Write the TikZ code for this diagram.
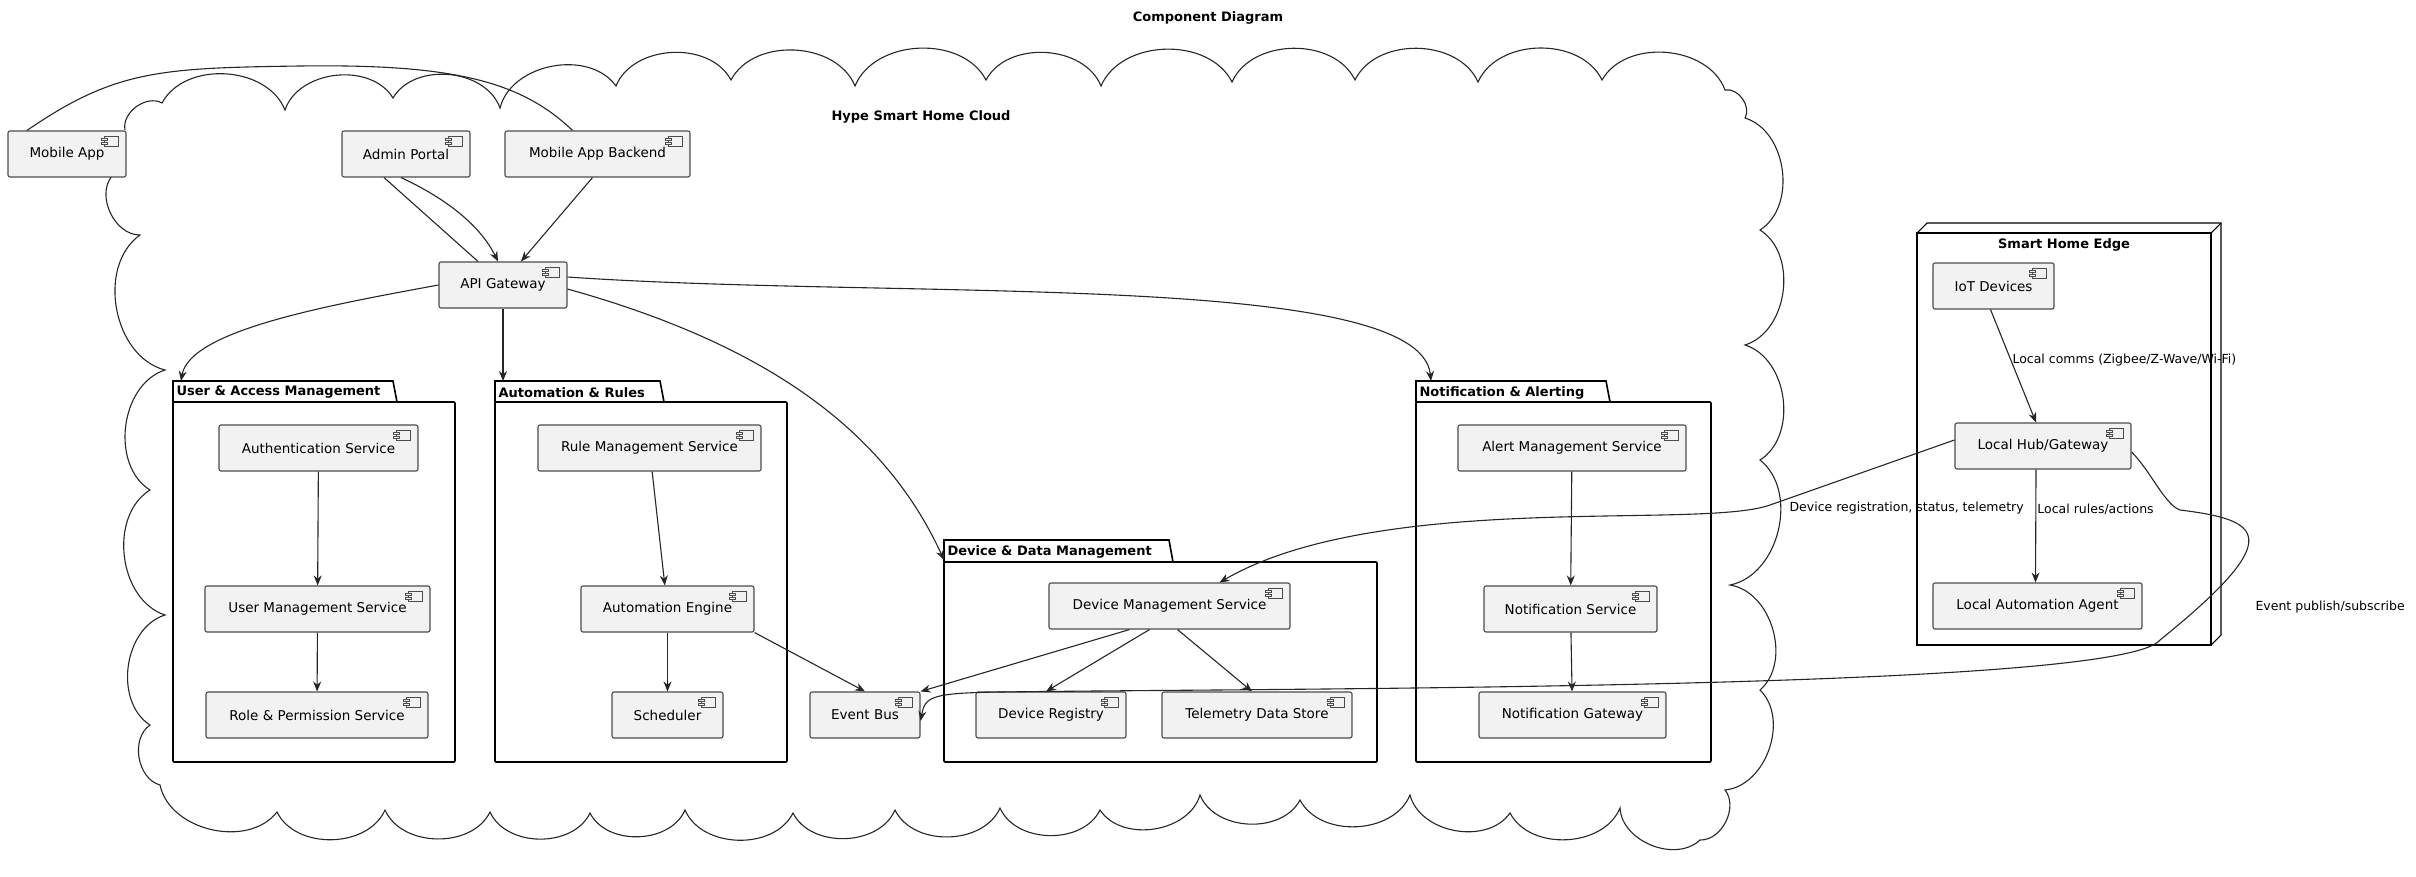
\documentclass[tikz,border=0pt]{standalone}
\usepackage{fontspec}
\setmainfont{DejaVu Sans}
\usetikzlibrary{arrows.meta, positioning}

\tikzset{
  comp/.style={rectangle, rounded corners=2pt, draw=black!70, fill=gray!10, inner sep=0pt, font=\fontsize{13.5}{15}\selectfont},
  arrow/.style={draw=black!85, -{Stealth[length=10pt,width=8pt]}},
  link/.style={draw=black!85},
  pkgline/.style={draw=black, line width=1.6pt},
  lbl/.style={font=\fontsize{12.5}{15}\selectfont, inner sep=1pt}
}

% component box with its little icon
\newcommand{\comp}[6]{%
  \node[comp, minimum width={(#4-#2)*1pt}, minimum height={(#5-#3)*1pt}] (#1) at ({(#2+#4)/2},{(#3+#5)/2}) {\raisebox{-6pt}{#6}};
  \draw[draw=black!70, fill=gray!10] ([shift={(-22,6)}]#1.north east) rectangle ++(14,10);
  \draw[draw=black!70, fill=gray!10] ([shift={(-25,8)}]#1.north east) rectangle ++(6,2);
  \draw[draw=black!70, fill=gray!10] ([shift={(-25,12)}]#1.north east) rectangle ++(6,2);
}
% package: name, x1, tab top, body top, x2, bottom, tab width, label
\newcommand{\pkg}[8]{%
  \draw[pkgline, fill=white] (#2,#4) -- (#2,#3) -- (#2+#7,#3) -- (#2+#7+4,#4);
  \draw[pkgline, rounded corners=1pt] (#2,#4) rectangle (#5,#6);
  \coordinate (#1) at (#2,#3);
  \node[anchor=west, inner sep=0pt, font=\bfseries\fontsize{13}{15}\selectfont] at (#2+3,{(#3+#4)/2+1}) {#8};
}

\begin{document}
\begin{tikzpicture}[x=1pt, y=-1pt, every path/.style={line width=1.1pt}]
  \useasboundingbox (0,0) rectangle (2416,876);

  \node[font=\bfseries\fontsize{13}{15}\selectfont] (title) at (1208,18) {Component Diagram};

  % cloud outline
  \draw[black!85] (125,130)
    foreach \cx/\cy in {162/103,285/110,393/98,500/108,616/86,731/80,855/86,986/80,1101/86,1232/82,1355/80,1478/82,1602/80,1725/90,1745/118,1760/230,1745/345,1760/460,1730/585,1760/690,1725/790,
      1700/840,1620/808,1510/813,1410/795,1300/800,1200/795,1100/810,1000/808,895/810,793/813,685/810,590/813,490/812,385/810,277/812,160/785,150/725,165/615,150/490,165/370,140/235,112/176}
    { to[bend left=65] (\cx,\cy) };
  \node[font=\bfseries\fontsize{13}{15}\selectfont] (cloudlbl) at (921,117) {Hype Smart Home Cloud};

  % edge node
  \draw[black] (1917,233) rectangle (2211,645);
  \draw[black] (1917,233) -- (1927,223) -- (2221,223) -- (2221,635) -- (2211,645);
  \draw[black] (2211,233) -- (2221,223);
  \node[font=\bfseries\fontsize{13}{15}\selectfont] (edgelbl) at (2064,245) {Smart Home Edge};

  % packages
  \pkg{uam}{173}{381}{402}{455}{762}{220}{User \& Access Management}
  \pkg{aar}{495}{381}{402}{787}{762}{165}{Automation \& Rules}
  \pkg{ddm}{944}{540}{562}{1377}{762}{225}{Device \& Data Management}
  \pkg{nal}{1416}{381}{402}{1711}{762}{190}{Notification \& Alerting}

  % components
  \comp{mobile}{8}{131}{126}{177}{Mobile App}
  \comp{admin}{342}{131}{470}{177}{Admin Portal}
  \comp{backend}{505}{131}{690}{177}{Mobile App Backend}
  \comp{api}{439}{262}{567}{308}{API Gateway}

  \comp{auth}{219}{425}{418}{471}{Authentication Service}
  \comp{usermgmt}{205}{586}{430}{632}{User Management Service}
  \comp{role}{206}{692}{428}{738}{Role \& Permission Service}

  \comp{rulemgmt}{538}{425}{761}{471}{Rule Management Service}
  \comp{engine}{581}{586}{754}{632}{Automation Engine}
  \comp{sched}{612}{692}{723}{738}{Scheduler}

  \comp{eventbus}{810}{692}{920}{738}{Event Bus}

  \comp{devmgmt}{1049}{583}{1290}{629}{Device Management Service}
  \comp{registry}{976}{692}{1126}{738}{Device Registry}
  \comp{telemetry}{1162}{692}{1352}{738}{Telemetry Data Store}

  \comp{alert}{1458}{425}{1686}{471}{Alert Management Service}
  \comp{notif}{1484}{586}{1657}{632}{Notification Service}
  \comp{notifgw}{1479}{692}{1666}{738}{Notification Gateway}

  \comp{iot}{1933}{263}{2054}{309}{IoT Devices}
  \comp{hub}{1955}{423}{2131}{469}{Local Hub/Gateway}
  \comp{agent}{1933}{583}{2142}{629}{Local Automation Agent}

  % connectors
  \draw[link] ([xshift=-40pt]mobile.north) .. controls (115,70) and (160,68) .. (300,66)
    .. controls (450,64) and (520,80) .. ([xshift=-25pt]backend.north);
  \draw[link] ([xshift=-22pt]admin.south) -- ([xshift=-25pt]api.north);
  \draw[arrow] ([xshift=-5pt]admin.south) .. controls (460,205) and (485,235) .. ([xshift=-5pt]api.north);
  \draw[arrow] ([xshift=-5pt]backend.south) -- ([xshift=18pt]api.north);

  \draw[arrow] (api.west) .. controls (330,305) and (190,330) .. ([xshift=8pt]uam);
  \draw[arrow] (api.south) -- (api.south |- aar);
  \draw[arrow] ([yshift=-4pt]api.east) .. controls (750,340) and (880,420) .. ([yshift=-20pt]ddm);
  \draw[arrow] ([yshift=8pt]api.east) .. controls (900,300) and (1420,270) .. ([xshift=15pt]nal);

  \draw[arrow] (auth) -- (usermgmt);
  \draw[arrow] (usermgmt) -- (role);
  \draw[arrow] (rulemgmt) -- (engine);
  \draw[arrow] (engine) -- (sched);
  \draw[arrow] (engine.south east) -- (eventbus.north);
  \draw[arrow] ([xshift=-40pt]devmgmt.south) -- (eventbus.north east);
  \draw[arrow] ([xshift=-20pt]devmgmt.south) -- ([xshift=-5pt]registry.north);
  \draw[arrow] ([xshift=8pt]devmgmt.south) -- ([xshift=-5pt]telemetry.north);
  \draw[arrow] (alert) -- (notif);
  \draw[arrow] (notif) -- (notifgw);

  \draw[arrow] ([xshift=-3pt]iot.south) -- node[lbl, anchor=west, pos=0.45] {Local comms (Zigbee/Z-Wave/Wi-Fi)} ([xshift=-7pt]hub.north);
  \draw[arrow] ([xshift=-7pt]hub.south) -- node[lbl, anchor=west, pos=0.35] {Local rules/actions} ([xshift=-2pt]agent.north);
  \draw[arrow] ([yshift=6pt]hub.west) -- (1770,505) .. controls (1700,530) and (1380,490) .. ([xshift=50pt]devmgmt.north);
  \node[lbl, anchor=west] (devlbl) at (1788,508) {Device registration, status, telemetry};
  \draw[arrow] ([yshift=-6pt]hub.east) .. controls (2150,470) and (2165,505) .. (2180,510)
    .. controls (2260,520) and (2290,535) .. (2160,640)
    .. controls (2120,690) and (1300,688) .. (1000,692)
    .. controls (930,693) and (925,697) .. ([yshift=-6pt]eventbus.east);
  \node[lbl, anchor=west] (evlbl) at (2254,607) {Event publish/subscribe};
\end{tikzpicture}
\end{document}
